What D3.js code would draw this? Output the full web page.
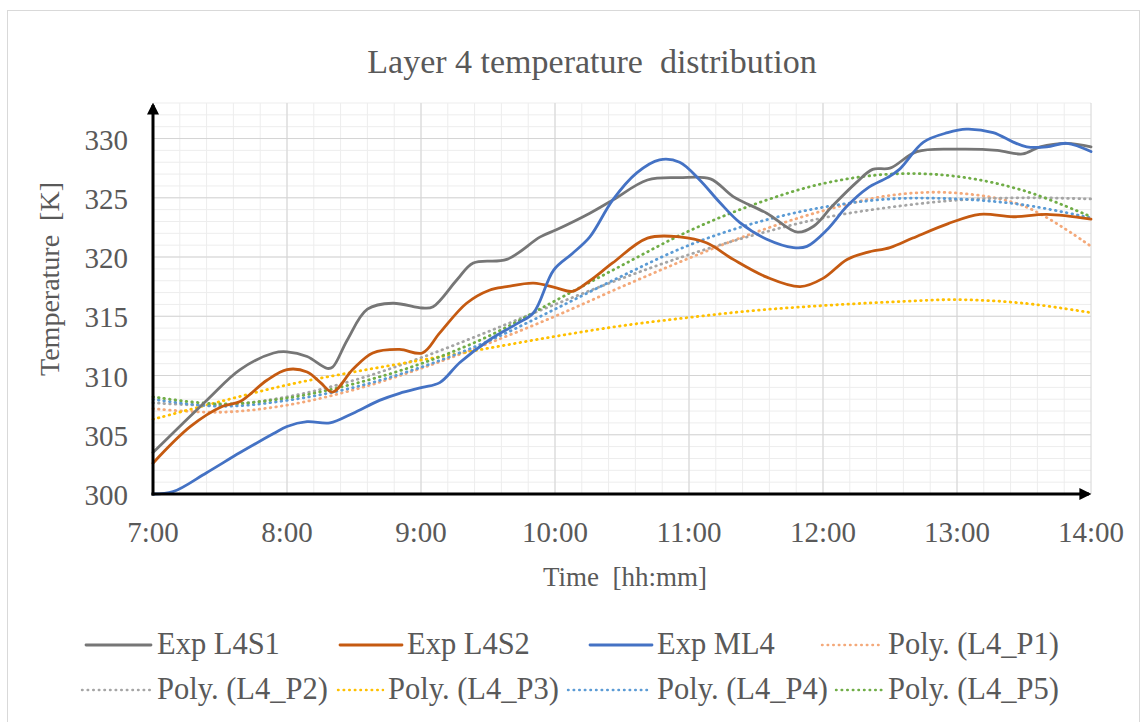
<!DOCTYPE html>
<html>
<head>
<meta charset="utf-8">
<script src="https://cdn.jsdelivr.net/npm/d3@7"></script>
<style>
  body { margin: 0; background: #fff; }
  text { font-family: "Liberation Serif", "Times New Roman", serif; fill: #595959; }
</style>
</head>
<body>
<svg id="chart" width="1147" height="722"></svg>
<script>
// time in decimal hours, temperature in K
const s1Time = [7.00, 7.40, 7.65, 7.90, 8.00, 8.15, 8.30, 8.34, 8.45, 8.60, 8.79, 9.01, 9.09, 9.27, 9.39, 9.64, 9.89, 10.01, 10.26, 10.43, 10.69, 10.93, 11.16, 11.33, 11.58, 11.81, 11.93, 12.07, 12.25, 12.37, 12.50, 12.70, 13.02, 13.30, 13.49, 13.62, 13.82, 14.00];
const s1Temp = [303.5, 307.9, 310.5, 311.9, 312.0, 311.6, 310.6, 310.7, 313.0, 315.6, 316.1, 315.7, 315.8, 318.1, 319.5, 319.8, 321.7, 322.3, 323.7, 324.8, 326.5, 326.7, 326.6, 325.1, 323.7, 322.1, 322.6, 324.3, 326.3, 327.4, 327.5, 328.9, 329.1, 329.0, 328.7, 329.3, 329.6, 329.3];

const s2Time = [7.00, 7.28, 7.52, 7.65, 7.85, 8.00, 8.15, 8.25, 8.34, 8.49, 8.64, 8.84, 9.01, 9.14, 9.34, 9.51, 9.64, 9.84, 10.01, 10.13, 10.26, 10.43, 10.69, 10.93, 11.13, 11.33, 11.58, 11.83, 12.00, 12.18, 12.33, 12.50, 12.67, 12.93, 13.17, 13.42, 13.67, 14.00];
const s2Temp = [302.6, 305.7, 307.4, 307.8, 309.6, 310.5, 310.3, 309.4, 308.6, 310.5, 311.9, 312.2, 311.9, 313.6, 316.1, 317.2, 317.5, 317.8, 317.4, 317.1, 318.0, 319.5, 321.6, 321.7, 321.2, 319.8, 318.3, 317.5, 318.2, 319.8, 320.4, 320.8, 321.6, 322.8, 323.6, 323.4, 323.6, 323.2];

const mlTime = [7.00, 7.15, 7.40, 7.65, 7.90, 8.00, 8.15, 8.32, 8.49, 8.69, 8.84, 9.01, 9.14, 9.29, 9.51, 9.72, 9.84, 9.99, 10.13, 10.26, 10.43, 10.61, 10.78, 10.93, 11.08, 11.23, 11.38, 11.58, 11.78, 11.88, 12.03, 12.18, 12.33, 12.48, 12.57, 12.75, 12.93, 13.07, 13.27, 13.42, 13.52, 13.67, 13.82, 14.00];
const mlTemp = [300.0, 300.2, 301.8, 303.5, 305.1, 305.7, 306.1, 306.0, 306.8, 307.9, 308.5, 309.0, 309.4, 311.1, 313.0, 314.4, 315.3, 318.9, 320.3, 321.7, 324.8, 327.1, 328.2, 328.0, 326.5, 324.6, 322.9, 321.5, 320.8, 320.9, 322.3, 324.3, 325.8, 326.7, 327.4, 329.7, 330.5, 330.8, 330.5, 329.7, 329.3, 329.3, 329.6, 328.9];

// polynomial trend lines, read every half hour
const polyTime = [7, 7.5, 8, 8.5, 9, 9.5, 10, 10.5, 11, 11.5, 12, 12.5, 13, 13.5, 14];
const p1Temp = [307.2, 306.9, 307.5, 308.8, 310.6, 312.7, 315.0, 317.5, 319.9, 322.1, 323.9, 325.2, 325.4, 324.3, 320.9];
const p2Temp = [307.7, 307.5, 308.2, 309.6, 311.5, 313.7, 316.0, 318.2, 320.2, 321.9, 323.3, 324.2, 324.8, 325.0, 324.9];
const p3Temp = [306.3, 307.8, 309.2, 310.3, 311.3, 312.3, 313.3, 314.2, 314.9, 315.5, 315.9, 316.2, 316.4, 316.1, 315.3];
const p4Temp = [308.0, 307.4, 307.9, 309.0, 310.7, 312.9, 315.6, 318.4, 321.0, 322.9, 324.2, 324.9, 324.9, 324.4, 323.3];
const p5Temp = [308.2, 307.6, 308.1, 309.3, 311.0, 313.3, 316.3, 319.3, 322.2, 324.5, 326.2, 327.0, 326.8, 325.6, 323.4];

const xTicks = [7, 8, 9, 10, 11, 12, 13, 14];
const xTickLabels = ["7:00", "8:00", "9:00", "10:00", "11:00", "12:00", "13:00", "14:00"];
const yTicks = [300, 305, 310, 315, 320, 325, 330];

const series = [
    { name: "Exp L4S1", time: s1Time, temp: s1Temp, color: "#767676", dotted: false },
    { name: "Exp L4S2", time: s2Time, temp: s2Temp, color: "#C55A11", dotted: false },
    { name: "Exp ML4", time: mlTime, temp: mlTemp, color: "#4472C4", dotted: false },
    { name: "Poly. (L4_P1)", time: polyTime, temp: p1Temp, color: "#F4A97A", dotted: true },
    { name: "Poly. (L4_P2)", time: polyTime, temp: p2Temp, color: "#A5A5A5", dotted: true },
    { name: "Poly. (L4_P3)", time: polyTime, temp: p3Temp, color: "#FFC000", dotted: true },
    { name: "Poly. (L4_P4)", time: polyTime, temp: p4Temp, color: "#5B9BD5", dotted: true },
    { name: "Poly. (L4_P5)", time: polyTime, temp: p5Temp, color: "#70AD47", dotted: true }
];

const svg = d3.select("#chart");

// chart frame
svg.append("rect")
    .attr("x", 7.5).attr("y", 10.5)
    .attr("width", 1132).attr("height", 720)
    .attr("fill", "#fff")
    .attr("stroke", "#d9d9d9");

const x = d3.scaleLinear().domain([7, 14]).range([153, 1091]);
const y = d3.scaleLinear().domain([300, 333]).range([494, 103]);

// grid
const grid = svg.append("g");
grid.selectAll("line.minorx")
    .data(d3.range(7.2, 14, 0.2))
    .enter().append("line")
    .attr("x1", d => x(d)).attr("x2", d => x(d))
    .attr("y1", y(300)).attr("y2", y(333))
    .attr("stroke", "#ededed");
grid.selectAll("line.minory")
    .data(d3.range(301, 333.5, 1))
    .enter().append("line")
    .attr("x1", x(7)).attr("x2", x(14))
    .attr("y1", d => y(d)).attr("y2", d => y(d))
    .attr("stroke", "#ededed");
grid.selectAll("line.majorx")
    .data(xTicks.slice(1))
    .enter().append("line")
    .attr("x1", d => x(d)).attr("x2", d => x(d))
    .attr("y1", y(300)).attr("y2", y(333))
    .attr("stroke", "#d4d4d4");
grid.selectAll("line.majory")
    .data(yTicks.slice(1))
    .enter().append("line")
    .attr("x1", x(7)).attr("x2", x(14))
    .attr("y1", d => y(d)).attr("y2", d => y(d))
    .attr("stroke", "#d4d4d4");

// lines
const line = d3.line()
    .x(d => x(d[0]))
    .y(d => y(d[1]))
    .curve(d3.curveCatmullRom.alpha(0.5));

const drawOrder = [3, 4, 5, 6, 7, 0, 1, 2];
drawOrder.forEach(i => {
    const s = series[i];
    svg.append("path")
        .datum(s.time.map((t, j) => [t, s.temp[j]]))
        .attr("d", line)
        .attr("fill", "none")
        .attr("stroke", s.color)
        .attr("stroke-width", 2.8)
        .attr("stroke-linecap", "round")
        .attr("stroke-dasharray", s.dotted ? "0.6,5" : null);
});

// axes with arrows
const defs = svg.append("defs");
defs.append("marker")
    .attr("id", "arrow")
    .attr("viewBox", "0 0 10 10")
    .attr("refX", 8).attr("refY", 5)
    .attr("markerWidth", 4).attr("markerHeight", 4)
    .attr("markerUnits", "strokeWidth")
    .attr("orient", "auto")
    .append("path")
    .attr("d", "M0,0 L10,5 L0,10 z")
    .attr("fill", "#000");

svg.append("line")
    .attr("x1", x(7)).attr("x2", x(7))
    .attr("y1", y(300) + 1.5).attr("y2", y(333) + 2)
    .attr("stroke", "#000").attr("stroke-width", 3)
    .attr("marker-end", "url(#arrow)");
svg.append("line")
    .attr("x1", x(7) - 1.5).attr("x2", x(14) - 2)
    .attr("y1", y(300)).attr("y2", y(300))
    .attr("stroke", "#000").attr("stroke-width", 3)
    .attr("marker-end", "url(#arrow)");

// tick labels
svg.selectAll("text.ytick")
    .data(yTicks)
    .enter().append("text")
    .attr("x", 128)
    .attr("y", d => y(d) + 11)
    .attr("text-anchor", "end")
    .style("font-size", "29px")
    .text(d => d);

svg.selectAll("text.xtick")
    .data(xTicks)
    .enter().append("text")
    .attr("x", d => x(d))
    .attr("y", 542)
    .attr("text-anchor", "middle")
    .style("font-size", "29px")
    .text((d, i) => xTickLabels[i]);

// titles
svg.append("text")
    .attr("x", 592).attr("y", 73)
    .attr("text-anchor", "middle")
    .style("font-size", "34px")
    .attr("xml:space", "preserve")
    .text("Layer 4 temperature  distribution");

svg.append("text")
    .attr("x", 625).attr("y", 586)
    .attr("text-anchor", "middle")
    .style("font-size", "27px")
    .attr("xml:space", "preserve")
    .text("Time  [hh:mm]");

svg.append("text")
    .attr("transform", "translate(59,279) rotate(-90)")
    .attr("text-anchor", "middle")
    .style("font-size", "28px")
    .attr("xml:space", "preserve")
    .text("Temperature  [K]");

// legend
const legendPos = [
    { lx: 86, lx2: 151, tx: 157, ly: 645 },
    { lx: 340, lx2: 402, tx: 407, ly: 645 },
    { lx: 590, lx2: 652, tx: 657, ly: 645 },
    { lx: 822, lx2: 882, tx: 888, ly: 645 },
    { lx: 82, lx2: 150, tx: 157, ly: 690 },
    { lx: 338, lx2: 383, tx: 388, ly: 690 },
    { lx: 568, lx2: 651, tx: 657, ly: 690 },
    { lx: 836, lx2: 882, tx: 888, ly: 690 }
];

series.forEach((s, i) => {
    const p = legendPos[i];
    svg.append("line")
        .attr("x1", p.lx).attr("x2", p.lx2)
        .attr("y1", p.ly).attr("y2", p.ly)
        .attr("stroke", s.color)
        .attr("stroke-width", s.dotted ? 2.4 : 2.8)
        .attr("stroke-linecap", "round")
        .attr("stroke-dasharray", s.dotted ? "0.6,5" : null);
    svg.append("text")
        .attr("x", p.tx).attr("y", p.ly + 9)
        .style("font-size", "30.5px")
        .text(s.name);
});
</script>
</body>
</html>
